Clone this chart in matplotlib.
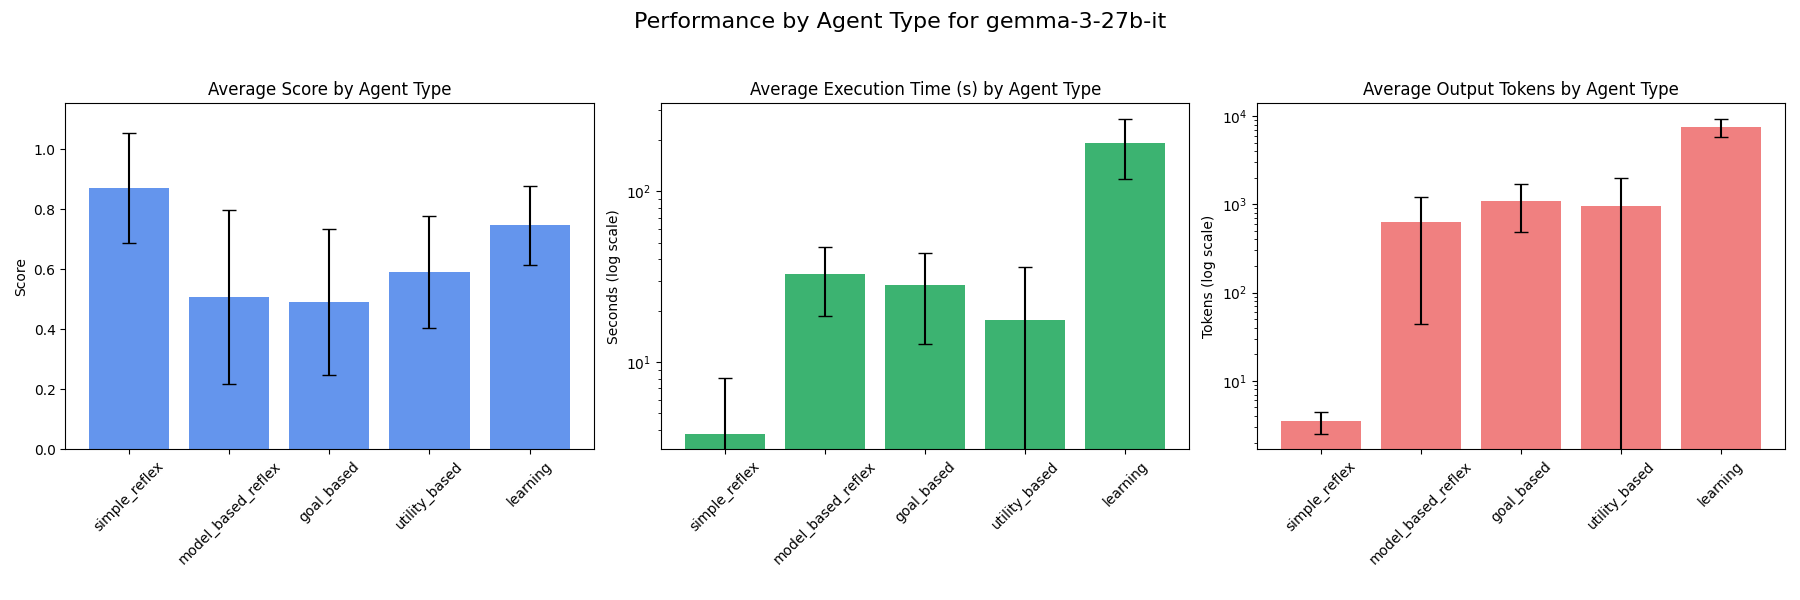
import matplotlib
matplotlib.use("Agg")
import matplotlib.pyplot as plt
import numpy as np

agent_types = ["simple_reflex", "model_based_reflex", "goal_based", "utility_based", "learning"]

score_mean = [0.870, 0.508, 0.491, 0.590, 0.746]
score_std = [0.183, 0.290, 0.242, 0.186, 0.132]

time_mean = [3.81, 32.8, 28.2, 17.7, 191.5]
time_std = [4.25, 14.1, 15.5, 18.5, 73.5]

tokens_mean = [3.5, 632, 1085, 957, 7510]
tokens_std = [0.97, 588, 605, 1017, 1740]

fig, axes = plt.subplots(1, 3, figsize=(18, 6), dpi=100)
fig.subplots_adjust(left=0.0363, right=0.9918, bottom=0.2512, top=0.8278, wspace=0.128)
fig.suptitle("Performance by Agent Type for gemma-3-27b-it", fontsize=16, y=0.98)

x = np.arange(len(agent_types))

ax = axes[0]
ax.bar(x, score_mean, yerr=score_std, capsize=5, color="cornflowerblue")
ax.set_title("Average Score by Agent Type", fontsize=12)
ax.set_ylabel("Score")
ax.set_ylim(0, max(np.array(score_mean) + np.array(score_std)) * 1.095)

ax = axes[1]
ax.bar(x, time_mean, yerr=time_std, capsize=5, color="mediumseagreen")
ax.set_yscale("log")
ax.set_title("Average Execution Time (s) by Agent Type", fontsize=12)
ax.set_ylabel("Seconds (log scale)")

ax = axes[2]
ax.bar(x, tokens_mean, yerr=tokens_std, capsize=5, color="lightcoral")
ax.set_yscale("log")
ax.set_title("Average Output Tokens by Agent Type", fontsize=12)
ax.set_ylabel("Tokens (log scale)")

for ax in axes:
    ax.set_xticks(x)
    ax.set_xticklabels(agent_types, rotation=45)

fig.savefig("out.png", dpi=100)
